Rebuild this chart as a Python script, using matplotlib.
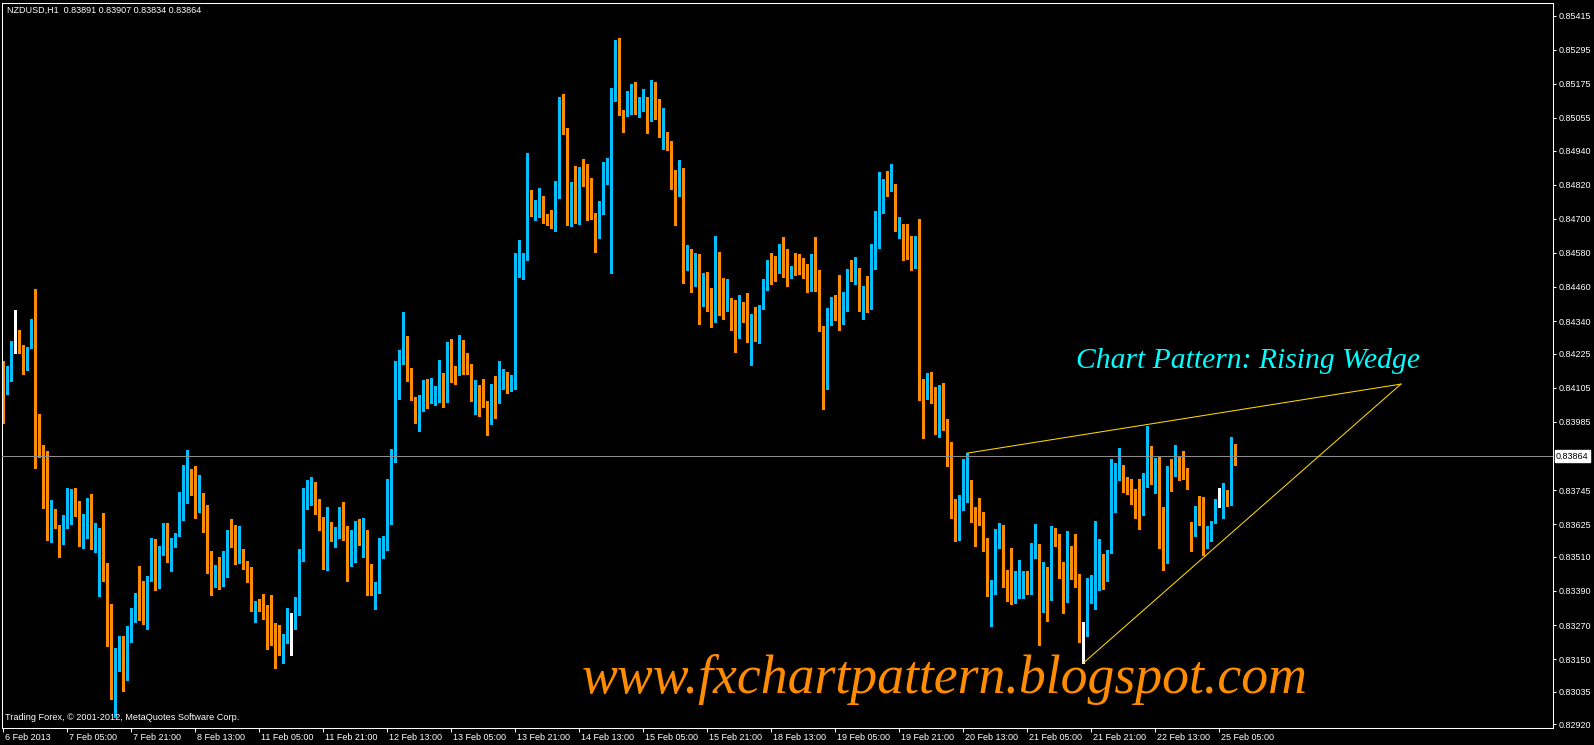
import numpy as np
import matplotlib
matplotlib.use("Agg")
import matplotlib.pyplot as plt
from matplotlib import transforms

plt.rcParams['font.family'] = ['Liberation Sans', 'DejaVu Sans']

symbol = "NZDUSD,H1"

# H1 candles, prices in points (1e-5)
opens = [
    84196, 84094, 84130, 84265, 84270, 84231, 84168, 84246, 84319, 83950,
    83875, 83823, 83605, 83678, 83622, 83559, 83630, 83713, 83724, 83661,
    83629, 83648, 83699, 83545, 83563, 83590, 83457, 83243, 83021, 83141,
    83221, 83109, 83236, 83285, 83376, 83319, 83299, 83436, 83537, 83405,
    83528, 83611, 83495, 83545, 83594, 83682, 83724, 83766, 83756, 83678,
    83713, 83640, 83506, 83418, 83453, 83407, 83488, 83640, 83566, 83513,
    83527, 83488, 83457, 83328, 83354, 83337, 83330, 83245, 83235, 83228,
    83194, 83219, 83309, 83305, 83328, 83497, 83694, 83716, 83773, 83670,
    83630, 83506, 83590, 83570, 83592, 83657, 83612, 83494, 83585, 83625,
    83570, 83588, 83386, 83383, 83390, 83519, 83546, 83697, 83861, 84118,
    84190, 84287, 84161, 84073, 84006, 84030, 84108, 84061, 84091, 84095,
    84132, 84118, 84261, 84157, 84152, 84215, 84178, 84151, 84100, 84106,
    84080, 84058, 84035, 84069, 84055, 84122, 84140, 84110, 84130, 84535,
    84541, 84558, 84787, 84724, 84752, 84766, 84717, 84703, 84685, 84826,
    85041, 85002, 84703, 84822, 84696, 84882, 84854, 84791, 84703, 84692,
    84720, 84854, 84861, 85139, 85280, 85072, 85062, 85146, 85171, 85079,
    85083, 85114, 85058, 85167, 85118, 84988, 85005, 84974, 84865, 84808,
    84850, 84537, 84551, 84502, 84572, 84400, 84460, 84446, 84337, 84555,
    84403, 84393, 84414, 84407, 84280, 84400, 84386, 84267, 84361, 84335,
    84382, 84481, 84544, 84537, 84516, 84562, 84523, 84513, 84534, 84530,
    84523, 84498, 84484, 84555, 84484, 84308, 84192, 84365, 84414, 84414,
    84379, 84382, 84506, 84481, 84495, 84400, 84421, 84382, 84576, 84646,
    84815, 84826, 84801, 84819, 84660, 84664, 84643, 84615, 84555, 84572,
    84125, 84066, 84147, 84104, 83956, 84051, 83981, 83889, 83675, 83647,
    83721, 83749, 83780, 83671, 83664, 83643, 83569, 83407, 83407, 83566,
    83601, 83446, 83428, 83393, 83400, 83421, 83442, 83407, 83545, 83555,
    83369, 83464, 83390, 83583, 83576, 83457, 83411, 83492, 83481, 83450,
    83252, 83249, 83369, 83383, 83478, 83488, 83425, 83523, 83671, 83780,
    83801, 83770, 83738, 83731, 83696, 83689, 83805, 83833, 83819, 83840,
    83608, 83523, 83816, 83801, 83854, 83801, 83794, 83604, 83597, 83671,
    83671, 83541, 83569, 83629, 83706, 83703, 83717, 83703, 83891,
]
highs = [
    84200, 84182, 84270, 84379, 84308, 84256, 84249, 84346, 84453, 84013,
    83904, 83882, 83710, 83678, 83622, 83657, 83751, 83749, 83752, 83706,
    83661, 83717, 83731, 83629, 83611, 83664, 83488, 83344, 83189, 83231,
    83231, 83266, 83330, 83383, 83478, 83425, 83442, 83576, 83573, 83548,
    83629, 83629, 83576, 83594, 83738, 83833, 83886, 83819, 83830, 83798,
    83735, 83692, 83530, 83481, 83509, 83530, 83604, 83643, 83622, 83618,
    83537, 83495, 83473, 83354, 83361, 83379, 83340, 83376, 83277, 83270,
    83238, 83330, 83312, 83370, 83537, 83752, 83780, 83791, 83773, 83714,
    83649, 83685, 83634, 83615, 83685, 83703, 83618, 83606, 83636, 83643,
    83647, 83604, 83483, 83422, 83576, 83583, 83785, 83891, 84200, 84237,
    84370, 84287, 84176, 84073, 84081, 84132, 84137, 84139, 84113, 84203,
    84157, 84265, 84278, 84182, 84291, 84273, 84229, 84189, 84132, 84115,
    84137, 84058, 84118, 84147, 84200, 84170, 84160, 84150, 84578, 84625,
    84578, 84931, 84801, 84766, 84808, 84780, 84717, 84731, 84833, 85129,
    85139, 85019, 84829, 84886, 84882, 84910, 84893, 84843, 84720, 84762,
    84900, 84914, 85160, 85329, 85336, 85083, 85150, 85174, 85181, 85129,
    85157, 85129, 85188, 85181, 85121, 85090, 85005, 84974, 84872, 84907,
    84879, 84608, 84593, 84579, 84576, 84509, 84513, 84456, 84639, 84583,
    84491, 84488, 84421, 84414, 84432, 84407, 84439, 84365, 84390, 84396,
    84488, 84555, 84579, 84569, 84611, 84636, 84593, 84534, 84579, 84576,
    84562, 84541, 84576, 84636, 84520, 84323, 84386, 84425, 84432, 84502,
    84442, 84523, 84555, 84565, 84527, 84463, 84498, 84611, 84727, 84865,
    84840, 84868, 84893, 84822, 84706, 84681, 84681, 84639, 84639, 84699,
    84136, 84157, 84161, 84108, 84115, 84122, 83995, 83914, 83713, 83728,
    83854, 83875, 83780, 83685, 83717, 83668, 83576, 83428, 83608, 83629,
    83622, 83464, 83541, 83460, 83499, 83460, 83460, 83559, 83625, 83555,
    83492, 83474, 83618, 83611, 83590, 83492, 83601, 83548, 83590, 83450,
    83281, 83435, 83446, 83636, 83573, 83520, 83534, 83854, 83840, 83893,
    83833, 83791, 83784, 83749, 83784, 83805, 83970, 83900, 83858, 83865,
    83685, 83830, 83854, 83904, 83865, 83882, 83823, 83633, 83689, 83724,
    83721, 83618, 83636, 83713, 83752, 83770, 83745, 83932, 83907,
]
lows = [
    83981, 84083, 84129, 84228, 84227, 84154, 84168, 84245, 83824, 83861,
    83683, 83570, 83563, 83611, 83510, 83555, 83612, 83627, 83654, 83548,
    83541, 83577, 83539, 83528, 83373, 83426, 83197, 83011, 82946, 83109,
    83039, 83077, 83211, 83282, 83289, 83275, 83257, 83426, 83394, 83401,
    83517, 83492, 83461, 83545, 83583, 83640, 83699, 83728, 83647, 83668,
    83597, 83453, 83376, 83404, 83397, 83407, 83439, 83545, 83485, 83488,
    83467, 83421, 83321, 83279, 83319, 83291, 83185, 83200, 83119, 83164,
    83136, 83207, 83164, 83257, 83306, 83497, 83677, 83692, 83661, 83604,
    83467, 83464, 83564, 83546, 83576, 83569, 83425, 83476, 83492, 83550,
    83509, 83376, 83376, 83328, 83383, 83507, 83534, 83627, 83845, 84067,
    84189, 84130, 84061, 83982, 83954, 84025, 84034, 84051, 84045, 84055,
    84039, 84055, 84127, 84118, 84150, 84154, 84152, 84058, 84013, 84006,
    84039, 83939, 83979, 84000, 84051, 84100, 84085, 84095, 84100, 84495,
    84488, 84555, 84710, 84696, 84706, 84685, 84678, 84667, 84657, 84773,
    84998, 84678, 84674, 84685, 84681, 84815, 84696, 84699, 84583, 84632,
    84717, 84822, 84509, 85114, 85065, 85005, 85062, 85069, 85069, 85058,
    85079, 85002, 85044, 85051, 84988, 84945, 84942, 84805, 84678, 84780,
    84474, 84520, 84442, 84463, 84330, 84393, 84375, 84319, 84337, 84361,
    84347, 84375, 84308, 84231, 84280, 84337, 84266, 84185, 84270, 84263,
    84382, 84449, 84470, 84481, 84509, 84495, 84463, 84491, 84502, 84506,
    84491, 84442, 84446, 84446, 84305, 84030, 84101, 84326, 84344, 84308,
    84330, 84375, 84481, 84470, 84375, 84347, 84372, 84382, 84523, 84597,
    84720, 84780, 84798, 84657, 84632, 84555, 84558, 84520, 84527, 84062,
    83928, 84066, 84051, 83942, 83932, 83956, 83830, 83647, 83566, 83569,
    83675, 83703, 83633, 83548, 83622, 83530, 83372, 83266, 83379, 83541,
    83404, 83354, 83344, 83347, 83365, 83365, 83379, 83379, 83506, 83200,
    83316, 83284, 83358, 83548, 83435, 83312, 83351, 83432, 83404, 83210,
    83136, 83231, 83347, 83326, 83393, 83397, 83425, 83523, 83668, 83780,
    83738, 83731, 83696, 83647, 83608, 83657, 83756, 83766, 83735, 83541,
    83464, 83488, 83742, 83794, 83780, 83784, 83749, 83530, 83583, 83622,
    83516, 83541, 83566, 83629, 83685, 83647, 83689, 83692, 83834,
]
closes = [
    84090, 84132, 84266, 84265, 84228, 84168, 84249, 84319, 83964, 83873,
    83817, 83605, 83675, 83616, 83556, 83633, 83717, 83724, 83657, 83633,
    83650, 83699, 83542, 83566, 83590, 83454, 83239, 83018, 83143, 83221,
    83106, 83238, 83291, 83376, 83317, 83299, 83442, 83537, 83405, 83530,
    83608, 83492, 83545, 83594, 83685, 83728, 83766, 83749, 83678, 83717,
    83636, 83502, 83418, 83453, 83407, 83495, 83573, 83562, 83513, 83527,
    83485, 83453, 83328, 83349, 83333, 83333, 83242, 83233, 83228, 83190,
    83219, 83309, 83309, 83330, 83497, 83695, 83721, 83770, 83661, 83627,
    83497, 83592, 83566, 83594, 83657, 83604, 83494, 83588, 83625, 83570,
    83582, 83378, 83379, 83394, 83521, 83548, 83699, 83861, 84122, 84194,
    84287, 84152, 84070, 84009, 84030, 84108, 84061, 84094, 84097, 84132,
    84118, 84261, 84152, 84152, 84215, 84176, 84154, 84097, 84106, 84077,
    84055, 84039, 84069, 84052, 84122, 84140, 84110, 84130, 84526, 84547,
    84557, 84787, 84724, 84755, 84762, 84713, 84706, 84685, 84833, 85041,
    84998, 84703, 84819, 84692, 84879, 84850, 84787, 84699, 84692, 84724,
    84857, 84865, 85079, 85280, 85069, 85062, 85150, 85167, 85079, 85086,
    85114, 85058, 85167, 85114, 84988, 85005, 84967, 84857, 84808, 84847,
    84537, 84551, 84502, 84576, 84400, 84460, 84393, 84337, 84558, 84400,
    84393, 84410, 84403, 84280, 84400, 84382, 84266, 84359, 84335, 84386,
    84482, 84541, 84537, 84513, 84562, 84516, 84516, 84534, 84527, 84523,
    84502, 84484, 84555, 84481, 84305, 84192, 84368, 84410, 84407, 84379,
    84386, 84506, 84481, 84498, 84400, 84417, 84382, 84579, 84650, 84819,
    84822, 84801, 84819, 84664, 84674, 84639, 84611, 84555, 84572, 84118,
    84066, 84147, 84101, 83956, 84048, 83977, 83886, 83671, 83650, 83724,
    83752, 83784, 83664, 83661, 83640, 83566, 83407, 83414, 83566, 83615,
    83442, 83428, 83393, 83404, 83425, 83435, 83407, 83548, 83555, 83369,
    83464, 83393, 83583, 83573, 83450, 83404, 83499, 83478, 83446, 83249,
    83252, 83372, 83386, 83481, 83492, 83425, 83530, 83675, 83784, 83801,
    83766, 83735, 83731, 83689, 83689, 83805, 83833, 83819, 83840, 83601,
    83523, 83816, 83801, 83854, 83798, 83791, 83752, 83597, 83671, 83668,
    83541, 83573, 83633, 83710, 83706, 83717, 83703, 83893, 83864,
]

price_ticks = [0.85415, 0.85295, 0.85175, 0.85055, 0.84940, 0.84820, 0.84700,
               0.84580, 0.84460, 0.84340, 0.84225, 0.84105, 0.83985, 0.83745,
               0.83625, 0.83510, 0.83390, 0.83270, 0.83150, 0.83035, 0.82920]
time_labels = ["6 Feb 2013", "7 Feb 05:00", "7 Feb 21:00", "8 Feb 13:00",
               "11 Feb 05:00", "11 Feb 21:00", "12 Feb 13:00", "13 Feb 05:00",
               "13 Feb 21:00", "14 Feb 13:00", "15 Feb 05:00", "15 Feb 21:00",
               "18 Feb 13:00", "19 Feb 05:00", "19 Feb 21:00", "20 Feb 13:00",
               "21 Feb 05:00", "21 Feb 21:00", "22 Feb 13:00", "25 Feb 05:00"]
label_every = 16  # bars between time labels

# rising wedge trendlines (bar index, price)
wedge_upper_bar = [241, 349.4]
wedge_upper_price = [0.83875, 0.84118]
wedge_lower_bar = [270, 349.4]
wedge_lower_price = [0.83136, 0.84118]

BULL = '#00BFFF'
BEAR = '#FF8C00'

o = np.array(opens) / 1e5
h = np.array(highs) / 1e5
l = np.array(lows) / 1e5
c = np.array(closes) / 1e5
n = len(o)
x = np.arange(n)
bid = c[-1]

fig = plt.figure(figsize=(15.94, 7.45), dpi=100, facecolor='black')
ax = fig.add_axes([0.00144, 0.02322, 0.97303, 0.97316], facecolor='black')
ylo, yhi = 0.829085, 0.854605
ax.set_xlim(-0.25, 387.5)
ax.set_ylim(ylo, yhi)
one_px = (yhi - ylo) / 725.0

cols = np.where(c > o, BULL, np.where(c < o, BEAR, 'white'))
ax.vlines(x, l, h, colors=cols, lw=0.75, antialiased=False, zorder=2)
bottoms = np.minimum(o, c)
heights = np.maximum(np.abs(c - o), one_px)
ax.bar(x, heights, width=0.8, bottom=bottoms, color=cols, linewidth=0,
       antialiased=False, zorder=2)

ax.axhline(bid, color='#8C8C8C', lw=0.75, zorder=3)

ax.plot(wedge_upper_bar, wedge_upper_price, color='#FFD700', lw=0.75, zorder=4)
ax.plot(wedge_lower_bar, wedge_lower_price, color='#FFD700', lw=0.75, zorder=4)

ax.text(0.6923, 0.4961, "Chart Pattern: Rising Wedge", transform=ax.transAxes,
        color='#00FFFF', fontsize=21.3, family='Liberation Serif', style='italic',
        va='baseline', ha='left', zorder=5)
ax.text(0.3738, 0.0479, "www.fxchartpattern.blogspot.com", transform=ax.transAxes,
        color='#FF8C00', fontsize=38.7, family='Liberation Serif', style='italic',
        va='baseline', ha='left', zorder=5)

# axes
for s in ax.spines.values():
    s.set_color('white')
    s.set_linewidth(0.75)
ax.yaxis.tick_right()
ax.set_yticks(price_ticks)
ax.set_yticklabels([f"{v:.5f}" for v in price_ticks])
ax.tick_params(axis='y', colors='white', length=2.2, width=0.75, pad=1.8,
               labelsize=6.5)
ax.set_xticks(np.arange(0, n, label_every))
ax.set_xticklabels(time_labels, ha='left')
ax.tick_params(axis='x', colors='white', length=2.9, width=0.75, pad=1.0,
               labelsize=6.5)
offset = transforms.ScaledTranslation(0.02, 0, fig.dpi_scale_trans)
for lab in ax.get_xticklabels():
    lab.set_transform(lab.get_transform() + offset)

# bid price label
trans = transforms.blended_transform_factory(ax.transAxes, ax.transData)
ax.text(1.0018, bid, f"{bid:.5f}", transform=trans, color='black', fontsize=6.5,
        va='center', ha='left', zorder=6, clip_on=False,
        bbox=dict(boxstyle='square,pad=0.15', facecolor='white', edgecolor='white'))

fig.text(7 / 1594, 1 - 10.7 / 745,
         f"{symbol}  {o[-1]:.5f} {h[-1]:.5f} {l[-1]:.5f} {c[-1]:.5f}",
         color='white', fontsize=6.5, va='center', ha='left')
fig.text(5 / 1594, 1 - 717 / 745,
         "Trading Forex, \u00a9 2001-2012, MetaQuotes Software Corp.",
         color='white', fontsize=6.6, va='center', ha='left')

fig.savefig('out.png', dpi=100, facecolor='black')
